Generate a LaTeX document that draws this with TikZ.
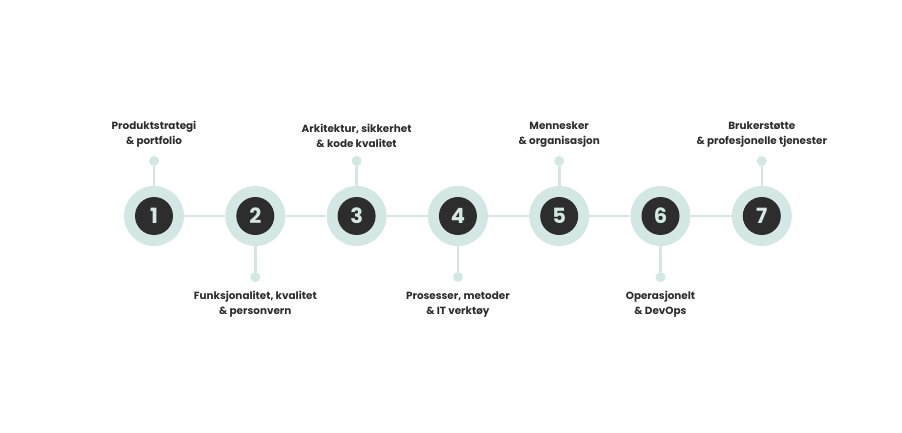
\documentclass[tikz,border=0pt]{standalone}
\usepackage{fontspec}
\setmainfont{Poppins}
\usetikzlibrary{positioning}
\definecolor{mint}{HTML}{D3E7E4}
\definecolor{ink}{HTML}{2D2D2D}

\begin{document}
\begin{tikzpicture}[x=1pt,y=-1pt,
  ring/.style={circle,fill=mint,minimum size=60pt,inner sep=0pt},
  core/.style={circle,fill=ink,text=mint,minimum size=38pt,inner sep=0pt,font=\bfseries\fontsize{21}{21}\selectfont},
  dot/.style={circle,fill=mint,minimum size=10pt,inner sep=0pt},
  lbl/.style={align=center,font=\bfseries\fontsize{10.4}{15}\selectfont,text=ink,inner sep=0pt},
  link/.style={draw=mint,line width=2.6pt}]
  \useasboundingbox[fill=white] (0,0) rectangle (902,433);
  % steps along the line
  \foreach \i in {1,...,7} {
    \node[ring] (r\i) at ({154+101.3*(\i-1)},216) {};
    \node[core] (c\i) at (r\i) {\i};
  }
  \foreach \i/\j in {1/2,2/3,3/4,4/5,5/6,6/7} \draw[link] (r\i.east) -- (r\j.west);
  % stubs above
  \foreach \i in {1,3,5,7} {
    \node[dot] (d\i) at ({154+101.3*(\i-1)},161) {};
    \draw[link] (d\i) -- (r\i.north);
  }
  % stubs below
  \foreach \i in {2,4,6} {
    \node[dot] (d\i) at ({154+101.3*(\i-1)},277) {};
    \draw[link] (d\i) -- (r\i.south);
  }
  \node[lbl,above=8pt of d1] (l1) {Produktstrategi\\\& portfolio};
  \node[lbl,above=8pt of d3] (l3) {Arkitektur, sikkerhet\\\& kode kvalitet};
  \node[lbl,above=8pt of d5] (l5) {Mennesker\\\& organisasjon};
  \node[lbl,above=8pt of d7] (l7) {Brukerstøtte\\\& profesjonelle tjenester};
  \node[lbl,below=9pt of d2] (l2) {Funksjonalitet, kvalitet\\\& personvern};
  \node[lbl,below=9pt of d4] (l4) {Prosesser, metoder\\\& IT verktøy};
  \node[lbl,below=9pt of d6] (l6) {Operasjonelt\\\& DevOps};
\end{tikzpicture}
\end{document}
